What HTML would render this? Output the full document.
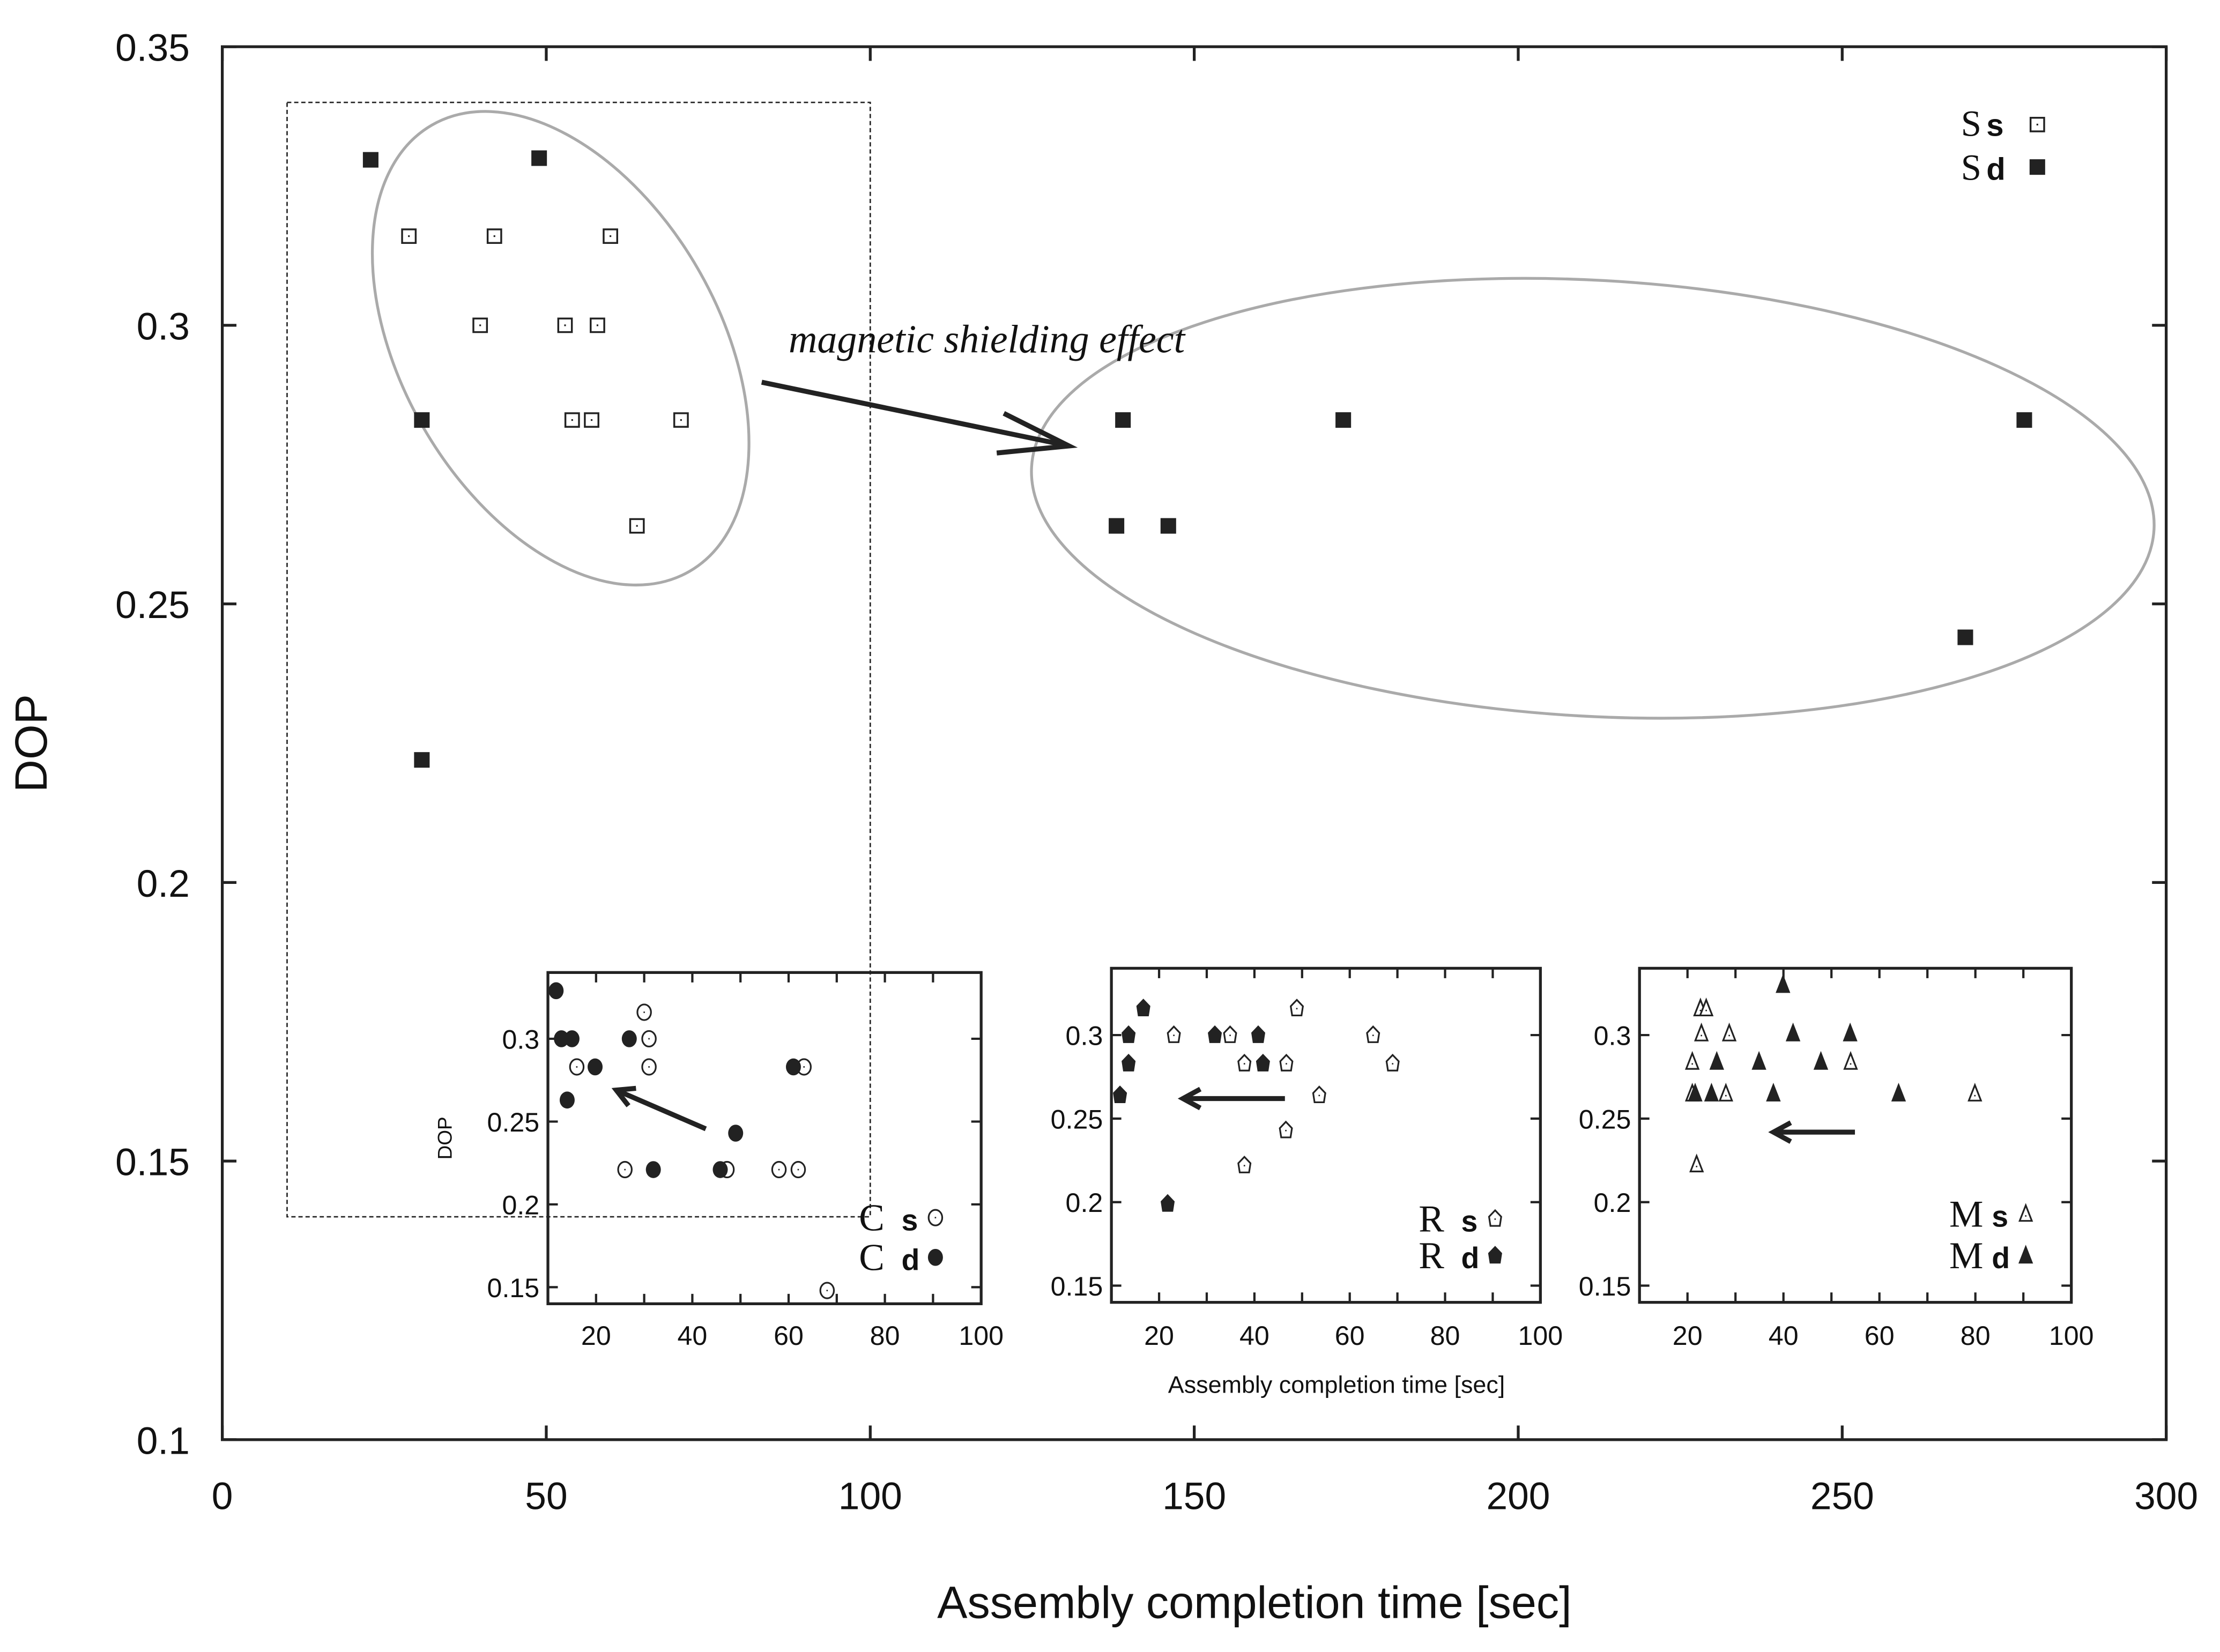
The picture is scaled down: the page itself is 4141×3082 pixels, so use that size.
<!DOCTYPE html>
<html><head><meta charset="utf-8"><style>
html,body{margin:0;padding:0;background:#fff;}
svg{display:block;}
text{font-family:"Liberation Sans",sans-serif;fill:#111;}
</style></head><body>
<svg id="chart" width="4141" height="3082" viewBox="0 0 1568 1167" preserveAspectRatio="none" xmlns="http://www.w3.org/2000/svg">
<g id="main"></g>
</svg>
<script>
// ---- Main chart data ----
const mainXTicks = [0, 50, 100, 150, 200, 250, 300];
const mainYTicks = [0.1, 0.15, 0.2, 0.25, 0.3, 0.35];
const mainYTickLabels = ["0.1", "0.15", "0.2", "0.25", "0.3", "0.35"];
const sdX = [22.9, 48.9, 30.8, 30.8, 139, 173, 138, 146, 278.1, 269];
const sdY = [0.3297, 0.33, 0.283, 0.222, 0.283, 0.283, 0.264, 0.264, 0.283, 0.244];
const ssX = [28.8, 42, 59.9, 39.8, 52.9, 57.9, 54, 57, 70.8, 64];
const ssY = [0.316, 0.316, 0.316, 0.30, 0.30, 0.30, 0.283, 0.283, 0.283, 0.264];
// ---- Inset data ----
const insetXTicks = [20, 40, 60, 80, 100];
const insetYTicks = [0.15, 0.2, 0.25, 0.3];
const insetYTickLabels = ["0.15", "0.2", "0.25", "0.3"];
const cdX = [11.7, 12.8, 15, 26.9, 19.8, 14, 49, 31.9, 45.8, 61];
const cdY = [0.329, 0.30, 0.30, 0.30, 0.283, 0.263, 0.243, 0.221, 0.221, 0.283];
const csX = [30, 31, 16, 31, 63.2, 26, 47.2, 58, 62, 68];
const csY = [0.316, 0.30, 0.283, 0.283, 0.283, 0.221, 0.221, 0.221, 0.221, 0.148];
const rdX = [16.7, 13.6, 31.7, 40.8, 13.6, 41.8, 11.8, 21.8];
const rdY = [0.316, 0.30, 0.30, 0.30, 0.283, 0.283, 0.264, 0.199];
const rsX = [48.9, 23.1, 34.9, 64.9, 37.9, 46.7, 69, 53.6, 46.6, 37.9];
const rsY = [0.316, 0.30, 0.30, 0.30, 0.283, 0.283, 0.283, 0.264, 0.243, 0.222];
const mdX = [39.9, 42, 53.9, 26.1, 34.9, 47.8, 21.6, 25, 37.9, 64];
const mdY = [0.330, 0.301, 0.301, 0.284, 0.284, 0.284, 0.265, 0.265, 0.265, 0.265];
const msX = [22.7, 23.9, 22.9, 28.7, 21, 54, 21, 28, 79.9, 21.9];
const msY = [0.316, 0.316, 0.301, 0.301, 0.284, 0.284, 0.265, 0.265, 0.265, 0.2226];

const NS = "http://www.w3.org/2000/svg";
const root = document.getElementById('main');
const SERIF = 'font-family:"Liberation Serif",serif;';
function mk(tag, attrs, parent) {
  const e = document.createElementNS(NS, tag);
  for (const k in attrs) e.setAttribute(k, attrs[k]);
  (parent || root).appendChild(e);
  return e;
}
function txt(s, attrs, parent) { const t = mk('text', attrs, parent); t.textContent = s; return t; }

const ML = 157, MR = 1530, MT = 33, MB = 1017;
const mx = v => ML + (v - 0) / 300 * (MR - ML);
const my = v => MB - (v - 0.1) / 0.25 * (MB - MT);

const dr = mk('rect', {x: mx(10), y: my(0.34), width: mx(100) - mx(10), height: my(0.14) - my(0.34), fill: 'none', stroke: '#222', 'stroke-width': 1, 'stroke-dasharray': '3,2'});



const e1 = mk('ellipse', {cx: 396, cy: 246, rx: 112, ry: 182, transform: 'rotate(-30 396 246)', fill: 'none', stroke: '#aaa', 'stroke-width': 2});


const e2 = mk('ellipse', {cx: 1125, cy: 352, rx: 397, ry: 154, transform: 'rotate(3.2 1125 352)', fill: 'none', stroke: '#aaa', 'stroke-width': 2});



const fr = mk('rect', {x: ML, y: MT, width: MR - ML, height: MB - MT, fill: 'none', stroke: '#222', 'stroke-width': 2});



mainXTicks.forEach(v => {
  const x = mx(v);
  mk('line', {x1: x, y1: MB, x2: x, y2: MB - 10, stroke: '#222', 'stroke-width': 2});
  mk('line', {x1: x, y1: MT, x2: x, y2: MT + 10, stroke: '#222', 'stroke-width': 2});
  const t = txt(String(v), {x: x, y: 1066, 'font-size': 27, 'text-anchor': 'middle'});
  
  
});
mainYTicks.forEach((v, i) => {
  const y = my(v);
  mk('line', {x1: ML, y1: y, x2: ML + 10, y2: y, stroke: '#222', 'stroke-width': 2});
  mk('line', {x1: MR, y1: y, x2: MR - 10, y2: y, stroke: '#222', 'stroke-width': 2});
  const t = txt(mainYTickLabels[i], {x: 134, y: y + 10, 'font-size': 27, 'text-anchor': 'end'});
  
  
});
const xt = txt('Assembly completion time [sec]', {x: 886, y: 1143, 'font-size': 32, 'text-anchor': 'middle'});


const yt = txt('DOP', {x: 0, y: 0, 'font-size': 32, 'text-anchor': 'middle', transform: 'translate(33 525) rotate(-90)'});



function square(x, y, filled, s, name) {
  const g = mk('g', {});
  
  
  if (filled) mk('rect', {x: x - s / 2, y: y - s / 2, width: s, height: s, fill: '#222'}, g);
  else {
    mk('rect', {x: x - s / 2 + 0.7, y: y - s / 2 + 0.7, width: s - 1.4, height: s - 1.4, fill: 'none', stroke: '#222', 'stroke-width': 1.3}, g);
    mk('rect', {x: x - 0.6, y: y - 0.6, width: 1.2, height: 1.2, fill: '#222'}, g);
  }
}
function circle(x, y, filled, name) {
  const g = mk('g', {});
  
  
  if (filled) mk('ellipse', {cx: x, cy: y, rx: 5.3, ry: 6, fill: '#222'}, g);
  else {
    mk('ellipse', {cx: x, cy: y, rx: 4.8, ry: 5.5, fill: '#fff', stroke: '#222', 'stroke-width': 1.2}, g);
    mk('rect', {x: x - 0.5, y: y - 0.5, width: 1, height: 1, fill: '#222'}, g);
  }
}
function pent(x, y, filled, name) {
  const g = mk('g', {});
  
  
  const pts = [[0, -6], [4.3, -1.5], [3.3, 5], [-3.3, 5], [-4.3, -1.5]].map(p => (x + p[0]) + ',' + (y + p[1])).join(' ');
  mk('polygon', {points: pts, fill: filled ? '#222' : '#fff', stroke: '#222', 'stroke-width': 1.2}, g);
  if (!filled) mk('rect', {x: x - 0.5, y: y - 0.3, width: 1, height: 1, fill: '#222'}, g);
}
function tri(x, y, filled, name) {
  const g = mk('g', {});
  
  
  const pts = [[0, -6], [4.3, 5], [-4.3, 5]].map(p => (x + p[0]) + ',' + (y + p[1])).join(' ');
  mk('polygon', {points: pts, fill: filled ? '#222' : '#fff', stroke: '#222', 'stroke-width': 1.2}, g);
  if (!filled) mk('rect', {x: x - 0.5, y: y + 1, width: 1, height: 1, fill: '#222'}, g);
}

ssX.forEach((v, i) => square(mx(v), my(ssY[i]), false, 11, 'ss-point'));
sdX.forEach((v, i) => square(mx(v), my(sdY[i]), true, 11, 'sd-point'));

const lg = mk('g', {});


txt('S', {x: 1385, y: 96, 'font-size': 26, style: SERIF}, lg);
txt('s', {x: 1403, y: 96, 'font-size': 22, 'font-weight': 'bold'}, lg);
txt('S', {x: 1385, y: 127, 'font-size': 26, style: SERIF}, lg);
txt('d', {x: 1403, y: 127, 'font-size': 22, 'font-weight': 'bold'}, lg);
square(1439, 88, false, 11, 'legend-ss-marker');
square(1439, 118, true, 11, 'legend-sd-marker');

const ann = txt('magnetic shielding effect', {x: 557, y: 249, 'font-size': 28, 'font-style': 'italic', style: SERIF});


const ar = mk('g', {stroke: '#222', 'stroke-width': 3.5, fill: 'none'});


mk('line', {x1: 538, y1: 270, x2: 755, y2: 315}, ar);
mk('polyline', {points: '709,292 755,315 704,320'}, ar);

function inset(L, T, R, B, name) {
  const sx = v => L + (v - 10) / 90 * (R - L);
  const sy = v => B - (v - 0.14) / 0.2 * (B - T);
  const g = mk('g', {});
  
  
  for (let v = 20; v <= 90; v += 10) {
    const x = sx(v);
    mk('line', {x1: x, y1: B, x2: x, y2: B - 7, stroke: '#222', 'stroke-width': 1.6}, g);
    mk('line', {x1: x, y1: T, x2: x, y2: T + 7, stroke: '#222', 'stroke-width': 1.6}, g);
  }
  insetXTicks.forEach(v => {
    const t = txt(String(v), {x: sx(v), y: 950, 'font-size': 19, 'text-anchor': 'middle'}, g);
    
    
  });
  insetYTicks.forEach((v, i) => {
    const y = sy(v);
    mk('line', {x1: L, y1: y, x2: L + 7, y2: y, stroke: '#222', 'stroke-width': 1.6}, g);
    mk('line', {x1: R, y1: y, x2: R - 7, y2: y, stroke: '#222', 'stroke-width': 1.6}, g);
    const t = txt(insetYTickLabels[i], {x: L - 6, y: y + 7, 'font-size': 19, 'text-anchor': 'end'}, g);
    
    
  });
  mk('rect', {x: L, y: T, width: R - L, height: B - T, fill: 'none', stroke: '#222', 'stroke-width': 2}, g);
  return {sx, sy, g};
}
function insetArrow(ins, x1, y1, x2, y2, name) {
  const a = mk('g', {stroke: '#222', 'stroke-width': 3.5, fill: 'none'}, ins.g);
  
  
  const X1 = ins.sx(x1), Y1 = ins.sy(y1), X2 = ins.sx(x2), Y2 = ins.sy(y2);
  const ang = Math.atan2(Y2 - Y1, X2 - X1);
  mk('line', {x1: X1, y1: Y1, x2: X2, y2: Y2}, a);
  const h = 14, w = 0.5;
  const p1 = [X2 - h * Math.cos(ang - w), Y2 - h * Math.sin(ang - w)];
  const p2 = [X2 - h * Math.cos(ang + w), Y2 - h * Math.sin(ang + w)];
  mk('polyline', {points: p1.join(',') + ' ' + X2 + ',' + Y2 + ' ' + p2.join(',')}, a);
}
function insetLegend(ins, letter, yS, yD, fn, name) {
  const g = mk('g', {}, ins.g);
  
  
  const xm = ins.sx(90.5);
  txt(letter, {x: xm - 54, y: ins.sy(yS) + 9, 'font-size': 27, style: SERIF}, g);
  txt('s', {x: xm - 24, y: ins.sy(yS) + 9, 'font-size': 21, 'font-weight': 'bold'}, g);
  txt(letter, {x: xm - 54, y: ins.sy(yD) + 9, 'font-size': 27, style: SERIF}, g);
  txt('d', {x: xm - 24, y: ins.sy(yD) + 9, 'font-size': 21, 'font-weight': 'bold'}, g);
  fn(xm, ins.sy(yS), false, 'legend-marker-s');
  fn(xm, ins.sy(yD), true, 'legend-marker-d');
}

const i1 = inset(387, 687, 693, 921, 'inset-c');
csX.forEach((v, i) => circle(i1.sx(v), i1.sy(csY[i]), false, 'cs-point'));
cdX.forEach((v, i) => circle(i1.sx(v), i1.sy(cdY[i]), true, 'cd-point'));
insetArrow(i1, 42.8, 0.2456, 24.2, 0.269, 'inset-c-arrow');
insetLegend(i1, 'C', 0.192, 0.168, circle, 'inset-c-legend');
const dl = txt('DOP', {x: 0, y: 0, 'font-size': 14, 'text-anchor': 'middle', transform: 'translate(319 804) rotate(-90)'});



const i2 = inset(785, 684, 1088, 920, 'inset-r');
rsX.forEach((v, i) => pent(i2.sx(v), i2.sy(rsY[i]), false, 'rs-point'));
rdX.forEach((v, i) => pent(i2.sx(v), i2.sy(rdY[i]), true, 'rd-point'));
insetArrow(i2, 46.4, 0.262, 25, 0.262, 'inset-r-arrow');
insetLegend(i2, 'R', 0.19, 0.168, pent, 'inset-r-legend');
const il = txt('Assembly completion time [sec]', {x: 944, y: 984, 'font-size': 17, 'text-anchor': 'middle'});



const i3 = inset(1158, 684, 1463, 920, 'inset-m');
msX.forEach((v, i) => tri(i3.sx(v), i3.sy(msY[i]), false, 'ms-point'));
mdX.forEach((v, i) => tri(i3.sx(v), i3.sy(mdY[i]), true, 'md-point'));
insetArrow(i3, 54.9, 0.2419, 37.9, 0.2419, 'inset-m-arrow');
insetLegend(i3, 'M', 0.193, 0.168, tri, 'inset-m-legend');
</script>
</body></html>
